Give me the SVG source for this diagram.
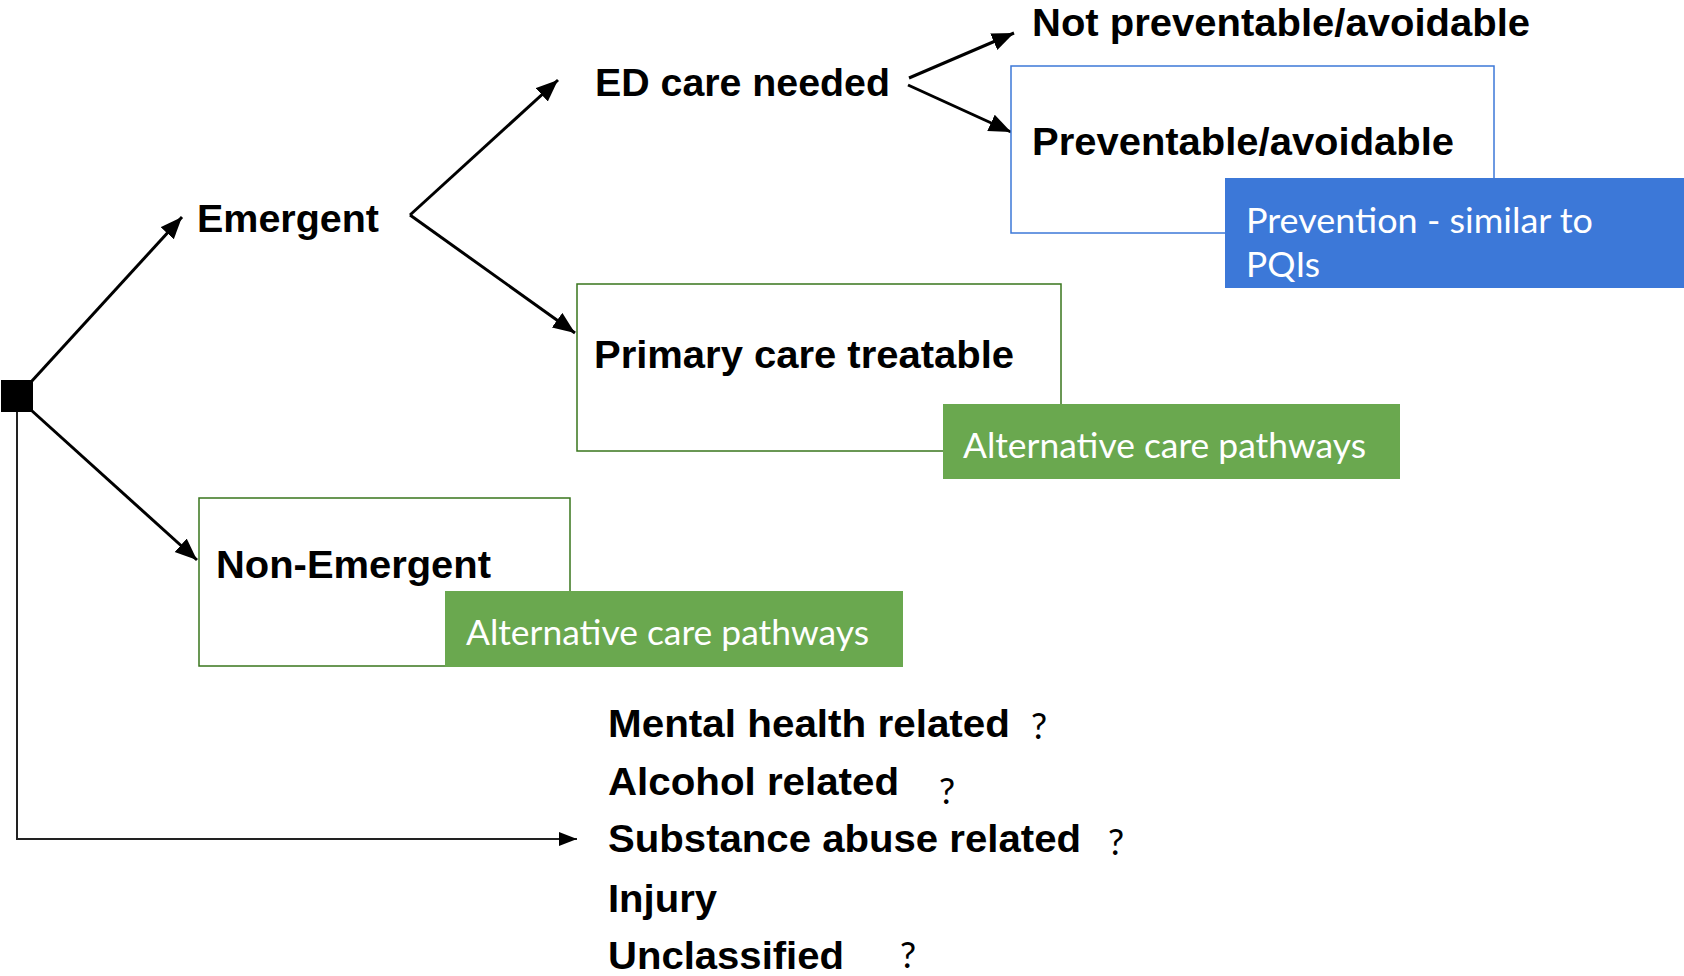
<svg xmlns="http://www.w3.org/2000/svg" width="1684" height="976" viewBox="0 0 1684 976">
<style>
.lbl{font-family:"Liberation Sans",Arial,sans-serif;font-weight:bold;font-size:39px;fill:#000}
.note{font-family:Lato,"Open Sans",sans-serif;font-size:34px;fill:#fff}
.q{font-family:Lato,"Open Sans",sans-serif;font-size:36px;fill:#000}
.gbox{fill:#fff;stroke:#38761d;stroke-width:1.5}
.bbox{fill:#fff;stroke:#3c78d8;stroke-width:1.5}
.gfill{fill:#6aa84f}
.bfill{fill:#3c78d8}
.arr{fill:none;stroke:#000;stroke-width:3}
.thin{fill:none;stroke:#222;stroke-width:2}
</style>
<defs>
<marker id="ah" markerUnits="userSpaceOnUse" markerWidth="26" markerHeight="20" refX="22" refY="9" orient="auto">
<path d="M0,0 L22,9 L0,18 z" fill="#000"/>
</marker>
<marker id="ah2" markerUnits="userSpaceOnUse" markerWidth="20" markerHeight="16" refX="18" refY="7" orient="auto">
<path d="M0,0 L18,7 L0,14 z" fill="#000"/>
</marker>
</defs>
<rect width="1684" height="976" fill="#fff"/>

<g id="connectors">
<path class="arr" d="M31,382 L182,217" marker-end="url(#ah)"/>
<path class="arr" d="M31,410 L197,560" marker-end="url(#ah)"/>
<path class="arr" d="M410,215 L558,80" marker-end="url(#ah)"/>
<path class="arr" d="M410,215 L575,333" marker-end="url(#ah)"/>
<path class="arr" d="M909,78 L1014,33" marker-end="url(#ah)"/>
<path class="arr" d="M908,85 L1011,132" marker-end="url(#ah)"/>
<path class="thin" d="M17,412 L17,839 L577,839" marker-end="url(#ah2)"/>
</g>

<g id="root">
<rect x="1" y="380" width="32" height="32" fill="#000"/>
</g>

<g id="emergent">
<text class="lbl" x="197" y="232" textLength="182" lengthAdjust="spacingAndGlyphs">Emergent</text>
</g>

<g id="ed-care">
<text class="lbl" x="595" y="96" textLength="295" lengthAdjust="spacingAndGlyphs">ED care needed</text>
</g>

<g id="not-preventable">
<text class="lbl" x="1032" y="36" textLength="498" lengthAdjust="spacingAndGlyphs">Not preventable/avoidable</text>
</g>

<g id="preventable">
<rect class="bbox" x="1011" y="66" width="483" height="167"/>
<text class="lbl" x="1032" y="155" textLength="422" lengthAdjust="spacingAndGlyphs">Preventable/avoidable</text>
<rect class="bfill" x="1225" y="178" width="459" height="110"/>
<text class="note" x="1246" y="233" textLength="347" lengthAdjust="spacingAndGlyphs">Prevention - similar to</text>
<text class="note" x="1246" y="277" textLength="74" lengthAdjust="spacingAndGlyphs">PQIs</text>
</g>

<g id="primary-care">
<rect class="gbox" x="577" y="284" width="484" height="167"/>
<text class="lbl" x="594" y="368" textLength="420" lengthAdjust="spacingAndGlyphs">Primary care treatable</text>
<rect class="gfill" x="943" y="404" width="457" height="75"/>
<text class="note" x="963" y="458" textLength="403" lengthAdjust="spacingAndGlyphs">Alternative care pathways</text>
</g>

<g id="non-emergent">
<rect class="gbox" x="199" y="498" width="371" height="168"/>
<text class="lbl" x="216" y="578" textLength="275" lengthAdjust="spacingAndGlyphs">Non-Emergent</text>
<rect class="gfill" x="445" y="591" width="458" height="76"/>
<text class="note" x="466" y="645" textLength="403" lengthAdjust="spacingAndGlyphs">Alternative care pathways</text>
</g>

<g id="other-categories">
<text class="lbl" x="608" y="737" textLength="402" lengthAdjust="spacingAndGlyphs">Mental health related</text>
<text class="q" x="1031" y="739">?</text>
<text class="lbl" x="608" y="795" textLength="291" lengthAdjust="spacingAndGlyphs">Alcohol related</text>
<text class="q" x="939" y="804">?</text>
<text class="lbl" x="608" y="852" textLength="473" lengthAdjust="spacingAndGlyphs">Substance abuse related</text>
<text class="q" x="1108" y="855">?</text>
<text class="lbl" x="608" y="912" textLength="109" lengthAdjust="spacingAndGlyphs">Injury</text>
<text class="lbl" x="608" y="969" textLength="236" lengthAdjust="spacingAndGlyphs">Unclassified</text>
<text class="q" x="900" y="968">?</text>
</g>
</svg>
